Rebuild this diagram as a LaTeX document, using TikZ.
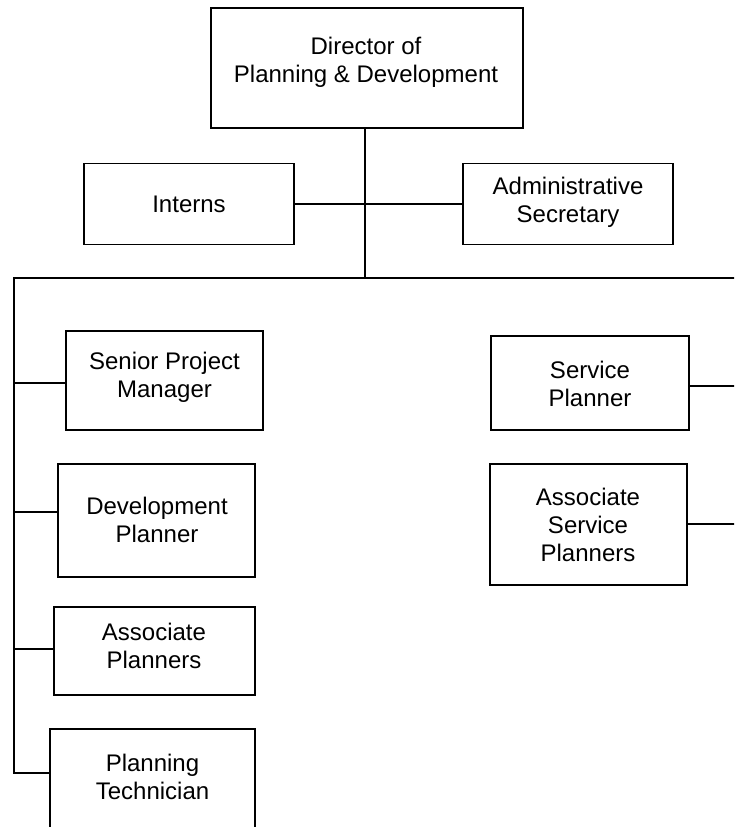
\documentclass[tikz,border=0pt]{standalone}
\usepackage{fontspec}
\setmainfont{Liberation Sans}
\begin{document}
\begin{tikzpicture}[x=1pt,y=-1pt,
  boxst/.style={draw=black, line width=1.4pt, rectangle, inner sep=0pt, fill=white},
  lbl/.style={align=center, font=\fontsize{24}{28}\selectfont, inner sep=0pt},
  conn/.style={line width=1.4pt, line cap=rect}]
\useasboundingbox (0,0) rectangle (734,827);
\clip (0,0) rectangle (734,827);
% boxes
\node[boxst, minimum width=312pt, minimum height=120pt] (dir) at (367,68) {};
\node[boxst, minimum width=210pt, minimum height=81pt] (interns) at (189,204) {};
\node[boxst, minimum width=210pt, minimum height=81pt] (admin) at (568,204) {};
\node[boxst, minimum width=197pt, minimum height=99pt] (spm) at (164.5,380.5) {};
\node[boxst, minimum width=197pt, minimum height=113pt] (dev) at (156.5,520.5) {};
\node[boxst, minimum width=201pt, minimum height=88pt] (ap) at (154.5,651) {};
\node[boxst, minimum width=205pt, minimum height=120pt] (pt) at (152.5,789) {};
\node[boxst, minimum width=198pt, minimum height=94pt] (sp) at (590,383) {};
\node[boxst, minimum width=197pt, minimum height=121pt] (asp) at (588.5,524.5) {};
% labels
\node[lbl] (dirT) at (366,62.5) {Director of\\Planning \& Development};
\node[lbl] (internsT) at (189,204) {Interns};
\node[lbl] (adminT) at (568,202) {Administrative\\Secretary};
\node[lbl] (spmT) at (164.5,377.5) {Senior Project\\Manager};
\node[lbl] (devT) at (157,519.5) {Development\\Planner};
\node[lbl] (apT) at (154,646) {Associate\\Planners};
\node[lbl] (ptT) at (152.5,776.5) {Planning\\Technician};
\node[lbl] (spT) at (590,384) {Service\\Planner};
\node[lbl] (aspT) at (588,525) {Associate\\Service\\Planners};
% coordinates
\coordinate (busC) at (365,278);
\coordinate (busL) at (14,278);
\coordinate (busR) at (734,278);
\coordinate (spineEnd) at (14,773);
\coordinate (spR) at (734,386);
\coordinate (aspR) at (734,524);
% connectors
\draw[conn] (dir.south -| busC) -- (busC);
\draw[conn] (interns.east) -- (admin.west);
\draw[conn] (busL) -- (busR);
\draw[conn] (busL) -- (spineEnd);
\draw[conn] (spm.west |- 0,383) -- (14,383);
\draw[conn] (dev.west |- 0,512) -- (14,512);
\draw[conn] (ap.west |- 0,649) -- (14,649);
\draw[conn] (pt.west |- spineEnd) -- (spineEnd);
\draw[conn] (sp.east |- spR) -- (spR);
\draw[conn] (asp.east |- aspR) -- (aspR);
\end{tikzpicture}
\end{document}
